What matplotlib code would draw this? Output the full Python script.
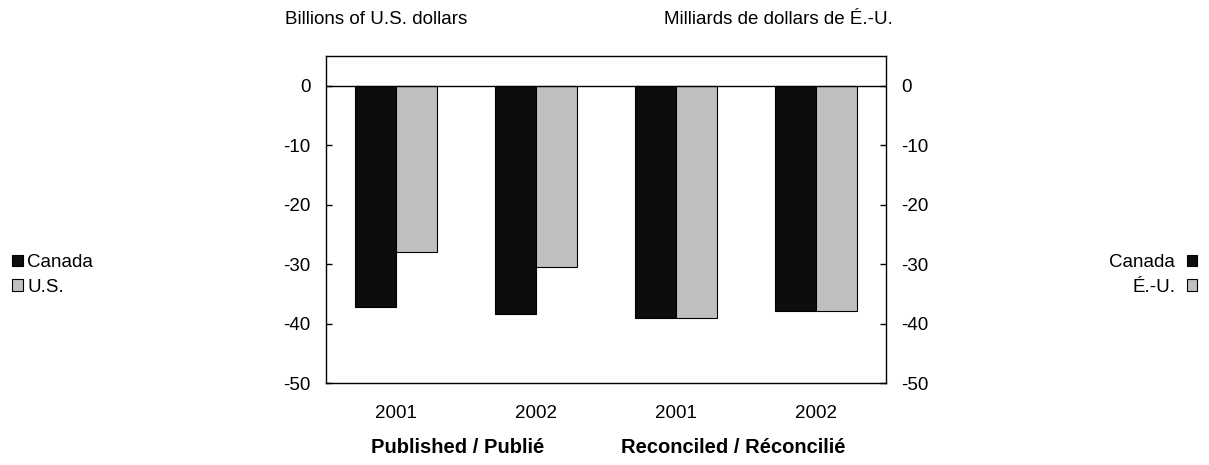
import matplotlib.pyplot as plt
import numpy as np
from matplotlib.patches import Patch
from matplotlib.transforms import blended_transform_factory

plt.rcParams['font.family'] = ['Liberation Sans', 'DejaVu Sans']
plt.rcParams['axes.unicode_minus'] = False
plt.rc('font', size=13.5)

years = ["2001", "2002", "2001", "2002"]
groups = ["Published / Publié", "Reconciled / Réconcilié"]
canada = [-37.1, -38.3, -39.1, -37.9]
us = [-28.0, -30.4, -39.1, -37.9]

canada_color = '#0d0d0d'
us_color = '#c0c0c0'

fig = plt.figure(figsize=(12.09, 4.65), dpi=100)
ax = fig.add_axes([0.2696, 0.1757, 0.4632, 0.7039])

x = np.arange(len(years))
w = 0.29
ax.bar(x - w / 2, canada, w, color=canada_color, edgecolor='black', linewidth=0.8)
ax.bar(x + w / 2, us, w, color=us_color, edgecolor='black', linewidth=0.8)
ax.axhline(0, color='black', linewidth=1)

ax.set_xlim(-0.5, 3.5)
ax.set_ylim(-50, 5)
ax.set_yticks(np.arange(-50, 1, 10))
ax.tick_params(axis='y', direction='in', length=4.5, width=1, pad=11,
               left=True, right=True, labelleft=True, labelright=True)
ax.set_xticks(x)
ax.set_xticklabels(years)
ax.tick_params(axis='x', length=0, pad=15.5)
for s in ax.spines.values():
    s.set_linewidth(1)

# group labels sit a bit left of the pair centres in the original
trans = blended_transform_factory(ax.transData, fig.transFigure)
ax.text(0.44, 1 - 447 / 465, groups[0], transform=trans, ha='center', va='center',
        fontweight='bold', fontsize=14.5)
ax.text(2.41, 1 - 447 / 465, groups[1], transform=trans, ha='center', va='center',
        fontweight='bold', fontsize=14.5)

fig.text(285 / 1209, 1 - 19 / 465, "Billions of U.S. dollars", ha='left', va='center')
fig.text(893 / 1209, 1 - 19 / 465, "Milliards de dollars de É.-U.", ha='right', va='center')

left_handles = [Patch(facecolor=canada_color, edgecolor='black', linewidth=0.8),
                Patch(facecolor=us_color, edgecolor='black', linewidth=0.8)]
fig.legend(left_handles, ["Canada", "U.S."], loc='center left',
           bbox_to_anchor=(0.0, 1 - 275 / 465), frameon=False,
           handlelength=0.55, handleheight=0.55, handletextpad=0.25,
           labelspacing=0.4, borderaxespad=0.45, borderpad=0.2)
fig.legend(left_handles, ["Canada", "É.-U."], loc='center right',
           bbox_to_anchor=(1.0, 1 - 275 / 465), frameon=False, markerfirst=False,
           handlelength=0.55, handleheight=0.55, handletextpad=0.6,
           labelspacing=0.4, borderaxespad=0.45, borderpad=0.2)

plt.savefig("out.png", dpi=100)
